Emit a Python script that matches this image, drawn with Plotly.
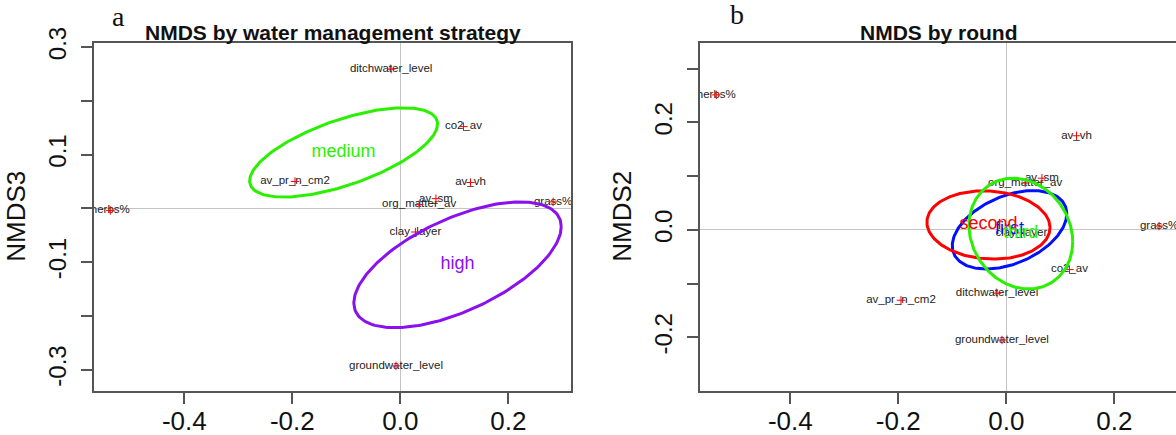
import numpy as np
import plotly.graph_objects as go

W, H = 1176, 435

# Environmental vector scores (NMDS1 is shared by both panels)
species = ["ditchwater_level", "co2_av", "av_pr_n_cm2", "av_vh", "av_sm",
           "org_matter_av", "grass%", "herbs%", "clay_layer", "groundwater_level"]
nmds1 = [-0.017, 0.117, -0.195, 0.130, 0.066, 0.035, 0.283, -0.537, 0.028, -0.008]
nmds3 = [0.259, 0.152, 0.050, 0.048, 0.018, 0.007, 0.012, -0.004, -0.044, -0.293]
nmds2 = [-0.118, -0.074, -0.131, 0.175, 0.096, 0.087, 0.007, 0.251, -0.006, -0.205]

# Group ellipses: centre, half-extent in x / y, and phase (tilt) of the y component
strategy_groups = ["medium", "high"]
strategy_colors = ["#2af000", "#8a10f0"]
strategy_cx = [-0.105, 0.106]
strategy_cy = [0.104, -0.105]
strategy_rx = [0.174, 0.192]
strategy_ry = [0.083, 0.117]
strategy_phase = [0.88, 0.92]

round_groups = ["first", "second", "third"]
round_colors = ["#0010ff", "#ff0000", "#2af000"]
round_cx = [0.006, -0.033, 0.027]
round_cy = [0.000, 0.009, -0.007]
round_rx = [0.106, 0.114, 0.096]
round_ry = [0.073, 0.0635, 0.103]
round_phase = [1.15, 1.65, 1.72]

x_ticks = [-0.4, -0.2, 0.0, 0.2]
x_ticktext = ["-0.4", "-0.2", "0.0", "0.2"]
ya_ticks = [-0.3, -0.2, -0.1, 0.0, 0.1, 0.2, 0.3]
ya_ticktext = ["-0.3", "", "-0.1", "", "0.1", "", "0.3"]
yb_ticks = [-0.2, -0.1, 0.0, 0.1, 0.2, 0.3]
yb_ticktext = ["-0.2", "", "0.0", "", "0.2", ""]

FONT = "Liberation Sans, Arial, sans-serif"
AXCOL = "#555555"


def ellipse(cx, cy, rx, ry, phase, n=200):
    t = np.linspace(0, 2 * np.pi, n)
    return cx + rx * np.cos(t), cy + ry * np.cos(t + phase)


fig = go.Figure()


def add_panel(xref, yref, yvals, cxs, cys, rxs, rys, phases, groups, colors):
    # variable names, then red crosses on top
    fig.add_trace(go.Scatter(
        x=nmds1, y=yvals, mode="text", text=species, xaxis=xref, yaxis=yref,
        textfont=dict(family=FONT, size=11.5, color="#222222"),
        textposition="middle center", hoverinfo="skip", cliponaxis=True))
    fig.add_trace(go.Scatter(
        x=nmds1, y=yvals, mode="markers", xaxis=xref, yaxis=yref,
        marker=dict(symbol="cross-thin", size=6, line=dict(color="red", width=1)),
        hoverinfo="skip", cliponaxis=True))
    for cx, cy, rx, ry, ph, g, c in zip(cxs, cys, rxs, rys, phases, groups, colors):
        ex, ey = ellipse(cx, cy, rx, ry, ph)
        fig.add_trace(go.Scatter(x=ex, y=ey, mode="lines", xaxis=xref, yaxis=yref,
                                 line=dict(color=c, width=3), hoverinfo="skip"))
    for cx, cy, g, c in zip(cxs, cys, groups, colors):
        fig.add_trace(go.Scatter(x=[cx], y=[cy], mode="text", text=[g],
                                 xaxis=xref, yaxis=yref,
                                 textfont=dict(family=FONT, size=18, color=c),
                                 hoverinfo="skip"))


add_panel("x", "y", nmds3, strategy_cx, strategy_cy, strategy_rx, strategy_ry,
          strategy_phase, strategy_groups, strategy_colors)
add_panel("x2", "y2", nmds2, round_cx, round_cy, round_rx, round_ry,
          round_phase, round_groups, round_colors)

ydom = [1 - 390.7 / H, 1 - 42.7 / H]
common_x = dict(tickmode="array", tickvals=x_ticks, ticktext=x_ticktext,
                ticks="outside", ticklen=11, tickwidth=2, tickcolor=AXCOL,
                showline=True, linecolor=AXCOL, linewidth=2, mirror=True,
                showgrid=False, zeroline=True, zerolinecolor="#c4c4c4",
                zerolinewidth=1, tickfont=dict(family=FONT, size=26, color="#111111"),
                ticklabelstandoff=-5, automargin=False)
common_y = dict(tickmode="array", ticks="outside", ticklen=11, tickwidth=2,
                tickcolor=AXCOL, showline=True, linecolor=AXCOL, linewidth=2,
                showgrid=False, zeroline=True, zerolinecolor="#c4c4c4",
                zerolinewidth=1, tickangle=-90, ticklabelstandoff=5,
                tickfont=dict(family=FONT, size=24, color="#111111"),
                automargin=False, domain=ydom)

fig.update_layout(
    width=W, height=H, margin=dict(l=0, r=0, t=0, b=0),
    paper_bgcolor="white", plot_bgcolor="white", showlegend=False,
    xaxis=dict(domain=[94 / W, 571 / W], range=[-0.5672, 0.3161], anchor="y", **common_x),
    yaxis=dict(range=[-0.3392, 0.3081], tickvals=ya_ticks, ticktext=ya_ticktext,
               anchor="x", mirror=True, **common_y),
    xaxis2=dict(domain=[700 / W, 1.0], range=[-0.5672, 0.3143], anchor="y2", **common_x),
    yaxis2=dict(range=[-0.2993, 0.3481], tickvals=yb_ticks, ticktext=yb_ticktext,
                anchor="x2", mirror=False, **common_y),
)


def ann(text, px, py, size, family=FONT, bold=False, angle=0, color="#111111"):
    fig.add_annotation(text=f"<b>{text}</b>" if bold else text,
                       x=px / W, y=1 - py / H, xref="paper", yref="paper",
                       showarrow=False, xanchor="center", yanchor="middle",
                       textangle=angle, font=dict(family=family, size=size, color=color))


ann("NMDS by water management strategy", 332.5, 32, 21, bold=True)
ann("NMDS by round", 938.5, 32, 21, bold=True)
ann("a", 118, 16, 28, family="Liberation Serif, Times New Roman, serif")
ann("b", 737, 15, 28, family="Liberation Serif, Times New Roman, serif")
ann("NMDS3", 16, 216.7, 26, angle=-90)
ann("NMDS2", 622, 216.7, 26, angle=-90)

fig.write_html("out.html")
